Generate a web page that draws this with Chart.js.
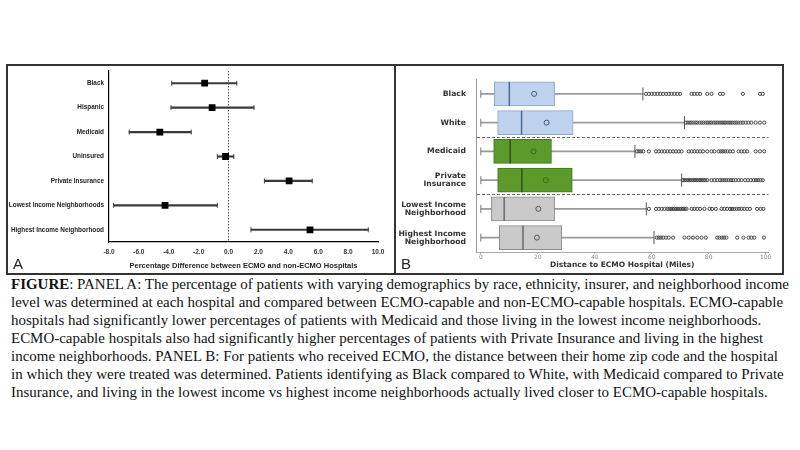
<!DOCTYPE html>
<html>
<head>
<meta charset="utf-8">
<script src="https://cdn.jsdelivr.net/npm/chart.js@4.4.1/dist/chart.umd.min.js"></script>
<style>
  body { margin: 0; background: #fff; width: 800px; height: 450px; overflow: hidden; position: relative; }
  .panel { position: absolute; top: 64px; height: 211px; border: 2px solid #333; box-sizing: border-box; background: #fff; }
  #panelA { left: 6px; width: 390px; }
  #panelB { left: 394px; width: 390px; }
  .panel canvas { position: absolute; left: 0; top: 0; }
  #panelA canvas { left: -2px; }
  .tag { position: absolute; left: 5px; bottom: 1px; font: 15px "Liberation Sans", sans-serif; color: #222; }
  #caption { position: absolute; left: 11px; top: 276px; font: 14px "Liberation Serif", "Times New Roman", serif; line-height: 18px; color: #111; white-space: nowrap; transform-origin: 0 0; }
</style>
</head>
<body>
<div class="panel" id="panelA"><canvas id="chartA" width="388" height="207"></canvas><div class="tag">A</div></div>
<div class="panel" id="panelB"><canvas id="chartB" width="386" height="207"></canvas><div class="tag">B</div></div>
<div id="caption">
  <div><span id="capLine1"><b>FIGURE</b>: PANEL A: The percentage of patients with varying demographics by race, ethnicity, insurer, and neighborhood income</span></div>
  <div>level was determined at each hospital and compared between ECMO-capable and non-ECMO-capable hospitals. ECMO-capable</div>
  <div>hospitals had significantly lower percentages of patients with Medicaid and those living in the lowest income neighborhoods.</div>
  <div>ECMO-capable hospitals also had significantly higher percentages of patients with Private Insurance and living in the highest</div>
  <div>income neighborhoods. PANEL B: For patients who received ECMO, the distance between their home zip code and the hospital</div>
  <div>in which they were treated was determined. Patients identifying as Black compared to White, with Medicaid compared to Private</div>
  <div>Insurance, and living in the lowest income vs highest income neighborhoods actually lived closer to ECMO-capable hospitals.</div>
</div>
<script>
// panel A: percentage difference, ECMO vs non-ECMO hospitals
const groupsA = ['Black', 'Hispanic', 'Medicaid', 'Uninsured', 'Private Insurance', 'Lowest Income Neighborhoods', 'Highest Income Neighborhood'];
const diffA = [-1.6, -1.1, -4.6, -0.2, 4.05, -4.25, 5.45];
const lowA = [-3.8, -3.85, -6.65, -0.75, 2.4, -7.7, 1.5];
const highA = [0.55, 1.7, -2.5, 0.35, 5.6, -0.75, 9.35];

// panel B: distance to ECMO hospital (miles)
const groupsB = ['Black', 'White', 'Medicaid', ['Private', 'Insurance'], ['Lowest Income', 'Neighborhood'], ['Highest Income', 'Neighborhood']];
const minB = [0, 0, 0, 0, 0, 0];
const q1B = [4.7, 5.9, 4.5, 5.9, 3.7, 6.5];
const medianB = [10.0, 14.3, 10.3, 14.4, 8.2, 14.8];
const meanB = [18.7, 23.1, 18.5, 22.8, 20.2, 19.7];
const q3B = [25.9, 32.4, 24.8, 32.1, 25.9, 28.4];
const maxB = [56.9, 71.5, 54.1, 70.5, 58.1, 60.8];
const outBlack = [58, 59, 60, 61, 62, 63, 64, 65, 66, 67, 68, 69, 70, 74, 75, 76, 77, 79.5, 81, 84, 85, 92, 98, 99];
const outWhite = [72, 72.7, 73.4, 74, 74.7, 75.4, 76, 76.8, 77.5, 78.2, 79, 79.7, 80.4, 81, 81.8, 82.5, 83.2, 84, 84.7, 85.4, 86, 86.8, 87.5, 88.2, 89, 89.7, 90.4, 91.2, 92, 93, 94, 95, 96.5, 98, 99.5];
const outMedicaid = [54.8, 55.5, 56.2, 57, 59, 61.5, 62.5, 63.5, 64.5, 65.5, 66.5, 67.5, 68.5, 69.5, 70.5, 73, 74, 75, 76, 77, 78, 79.5, 81, 82, 83.5, 84.3, 85, 85.8, 86.6, 87.5, 88.5, 90.5, 91.5, 92.5, 93.5, 96.5, 98, 99.5];
const outPrivate = [71, 71.6, 72.2, 72.8, 73.4, 74, 74.6, 75.2, 75.8, 76.4, 77, 77.6, 78.2, 78.8, 79.5, 81, 82, 83, 84, 84.8, 85.5, 86.2, 87, 87.8, 88.6, 89.5, 90.5, 91.5, 92.8, 93.8, 94.8, 95.8, 96.6, 97.4, 98.2, 99];
const outLowest = [59, 61.5, 62.5, 63.5, 64.5, 65.5, 66.2, 66.8, 67.4, 68, 68.6, 69.2, 69.8, 70.4, 71, 71.6, 72.2, 74, 75, 76, 77, 78.5, 80.3, 81.2, 82.5, 84.5, 85.5, 86.5, 87.5, 88.2, 89, 89.8, 90.6, 91.5, 92.5, 93.5, 94.5, 97, 98.2, 99.2];
const outHighest = [61.8, 62.5, 63.2, 64, 65, 66, 67.5, 71.5, 73, 74.5, 76, 77.5, 79, 83, 83.8, 84.6, 85.4, 86.2, 90, 92.2, 94, 95, 96, 99.4];
const outliersB = [outBlack, outWhite, outMedicaid, outPrivate, outLowest, outHighest];
const xTicksB = [0, 20, 40, 60, 80, 100];

const fontA = '"Liberation Sans", Arial, sans-serif';
const fontB = '"DejaVu Sans", Verdana, sans-serif';

const boxFill = ['#bed2ee', '#bed2ee', '#5c9a2b', '#5c9a2b', '#cacaca', '#cacaca'];
const boxEdge = ['#8ea6c6', '#8ea6c6', '#44741f', '#44741f', '#8c8c8c', '#8c8c8c'];
const medEdge = ['#4d6b91', '#4d6b91', '#2c5214', '#2c5214', '#6a6a6a', '#6a6a6a'];
const meanEdge = ['#3e5a80', '#3e5a80', '#3a6a1c', '#3a6a1c', '#555555', '#555555'];

const noPad = s => { s.paddingLeft = 0; s.paddingRight = 0; s.paddingTop = 0; s.paddingBottom = 0; };

new Chart(document.getElementById('chartA'), {
  type: 'bar',
  data: {
    labels: groupsA,
    datasets: [
      {
        type: 'scatter', order: 0,
        data: groupsA.map((g, i) => ({ x: diffA[i], y: g })),
        pointStyle: 'rect', radius: 4.8, backgroundColor: '#000', borderWidth: 0
      },
      {
        type: 'scatter', order: 1,
        data: groupsA.map((g, i) => ({ x: lowA[i], y: g })),
        pointStyle: 'line', rotation: 90, radius: 2.5, borderColor: '#444', borderWidth: 1
      },
      {
        type: 'scatter', order: 1,
        data: groupsA.map((g, i) => ({ x: highA[i], y: g })),
        pointStyle: 'line', rotation: 90, radius: 2.5, borderColor: '#444', borderWidth: 1
      },
      {
        order: 2, grouped: false,
        data: groupsA.map((g, i) => [lowA[i], highA[i]]),
        backgroundColor: '#3a3a3a', barThickness: 1.5, borderWidth: 0
      }
    ]
  },
  options: {
    indexAxis: 'y',
    responsive: false,
    animation: false,
    layout: { padding: { left: 0, right: 16, top: 4, bottom: 0 } },
    plugins: { legend: { display: false }, tooltip: { enabled: false } },
    scales: {
      x: {
        type: 'linear', min: -8, max: 10,
        ticks: { stepSize: 2, callback: v => v.toFixed(1), font: { family: fontA, size: 6.5, weight: 'bold' }, color: '#333', padding: 6, maxRotation: 0 },
        grid: { drawTicks: false, lineWidth: 1, color: c => (c.tick && c.tick.value === 0 ? '#555' : 'rgba(0,0,0,0)') },
        border: { color: '#000', width: 1.2, dash: [1.5, 1.5] },
        title: { display: true, text: 'Percentage Difference between ECMO and non-ECMO Hospitals', font: { family: fontA, size: 7.5, weight: 'bold' }, color: '#222', padding: { top: 0, bottom: 3 } },
        afterFit: s => { s.height = 31; noPad(s); }
      },
      y: {
        type: 'category', offset: true,
        grid: { display: false, drawTicks: false },
        border: { color: '#000', width: 1.2 },
        ticks: { font: { family: fontA, size: 6.4, weight: 'bold' }, color: '#222', padding: 5 },
        afterFit: s => { s.width = 103; noPad(s); }
      }
    }
  }
});

const outPoints = [];
outliersB.forEach((list, i) => list.forEach(v => outPoints.push({ x: v, y: groupsB[i] })));

new Chart(document.getElementById('chartB'), {
  type: 'bar',
  data: {
    labels: groupsB,
    datasets: [
      {
        type: 'scatter', order: 0,
        data: outPoints,
        pointStyle: 'circle', radius: 1.6, borderWidth: 1, borderColor: '#444', backgroundColor: 'rgba(0,0,0,0)'
      },
      {
        type: 'scatter', order: 0,
        data: groupsB.map((g, i) => ({ x: meanB[i], y: g })),
        pointStyle: 'circle', radius: 2.5, borderWidth: 1, borderColor: meanEdge, backgroundColor: 'rgba(0,0,0,0)'
      },
      {
        type: 'scatter', order: 1,
        data: groupsB.map((g, i) => ({ x: medianB[i], y: g })),
        pointStyle: 'line', rotation: 90, radius: 12, borderWidth: 1.5, borderColor: medEdge
      },
      {
        type: 'scatter', order: 1,
        data: groupsB.map((g, i) => ({ x: minB[i], y: g })),
        pointStyle: 'line', rotation: 90, radius: 4, borderWidth: 1, borderColor: '#777'
      },
      {
        type: 'scatter', order: 1,
        data: groupsB.map((g, i) => ({ x: maxB[i], y: g })),
        pointStyle: 'line', rotation: 90, radius: 6.5, borderWidth: 1, borderColor: '#555'
      },
      {
        order: 2, grouped: false,
        data: groupsB.map((g, i) => [q1B[i], q3B[i]]),
        backgroundColor: boxFill, borderColor: boxEdge, borderWidth: 1, borderSkipped: false, barThickness: 24
      },
      {
        order: 3, grouped: false,
        data: groupsB.map((g, i) => [minB[i], q1B[i]]),
        backgroundColor: '#999', borderWidth: 0, barThickness: 1
      },
      {
        order: 3, grouped: false,
        data: groupsB.map((g, i) => [q3B[i], maxB[i]]),
        backgroundColor: '#999', borderWidth: 0, barThickness: 1
      }
    ]
  },
  options: {
    indexAxis: 'y',
    responsive: false,
    animation: false,
    layout: { padding: { left: 0, right: 2, top: 3, bottom: 0 } },
    plugins: { legend: { display: false }, tooltip: { enabled: false } },
    scales: {
      x: {
        type: 'linear', min: -1.7, max: 101,
        afterBuildTicks: s => { s.ticks = xTicksB.map(v => ({ value: v })); },
        ticks: { font: { family: fontB, size: 6 }, color: '#888', padding: 0, maxRotation: 0 },
        grid: { drawOnChartArea: false, drawTicks: true, tickLength: 2, color: '#aaa' },
        border: { color: '#aaa', width: 1 },
        title: { display: true, text: 'Distance to ECMO Hospital (Miles)', font: { family: fontB, size: 7.5, weight: 'bold' }, color: '#333', padding: { top: 0, bottom: 3 } },
        afterFit: s => { s.height = 21; noPad(s); }
      },
      y: {
        type: 'category', offset: true,
        grid: { offset: true, drawTicks: false, lineWidth: 1, color: c => (c.index === 2 || c.index === 4 ? '#666' : 'rgba(0,0,0,0)') },
        border: { color: '#999', width: 1, dash: [3, 2] },
        ticks: { font: { family: fontB, size: 7.7, weight: 'bold', lineHeight: 1.05 }, color: '#333', padding: 10 },
        afterFit: s => { s.width = 80; noPad(s); }
      }
    }
  }
});

// squeeze the caption so the first line spans like in the figure
const cap = document.getElementById('caption');
const w1 = document.getElementById('capLine1').getBoundingClientRect().width;
cap.style.transform = 'scaleX(' + (778 / w1).toFixed(4) + ')';
</script>
</body>
</html>
